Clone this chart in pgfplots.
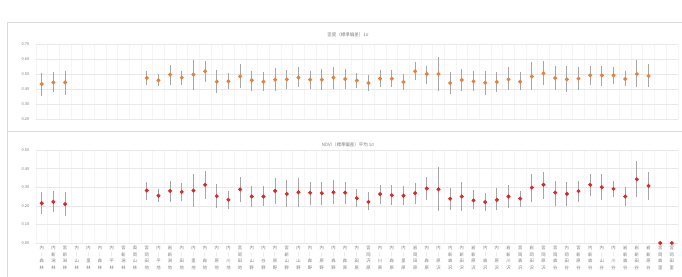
\documentclass[border=0pt]{standalone}
\usepackage{pgfplots}
\pgfplotsset{compat=1.18}
\usepackage{pgfplotstable}
\usepackage{fontspec}
\setmainfont{Noto Sans CJK JP}
\definecolor{gridc}{HTML}{E8E8E8}
\definecolor{labc}{HTML}{808080}
\definecolor{errc}{HTML}{A6A6A6}
\definecolor{orangem}{HTML}{ED7D31}
\definecolor{redm}{HTML}{E02424}
\definecolor{framec}{HTML}{D9D9D9}

\pgfplotstableread{
x y hi lo
0 0.433 0.507 0.356
1 0.444 0.511 0.378
2 0.444 0.518 0.362
9 0.473 0.522 0.424
10 0.458 0.500 0.422
11 0.496 0.562 0.429
12 0.476 0.522 0.429
13 0.496 0.596 0.396
14 0.518 0.584 0.444
15 0.449 0.529 0.373
16 0.451 0.507 0.400
17 0.484 0.567 0.407
18 0.458 0.522 0.389
19 0.449 0.513 0.384
20 0.462 0.540 0.384
21 0.464 0.529 0.400
22 0.476 0.544 0.411
23 0.462 0.522 0.400
24 0.462 0.533 0.396
25 0.476 0.544 0.402
26 0.467 0.536 0.402
27 0.456 0.507 0.407
28 0.440 0.491 0.384
29 0.469 0.524 0.411
30 0.469 0.524 0.411
31 0.447 0.502 0.396
32 0.518 0.578 0.458
33 0.500 0.556 0.436
34 0.500 0.611 0.384
35 0.440 0.513 0.369
36 0.460 0.536 0.384
37 0.451 0.522 0.384
38 0.442 0.518 0.362
39 0.447 0.513 0.378
40 0.464 0.544 0.391
41 0.449 0.511 0.393
42 0.484 0.578 0.396
43 0.504 0.589 0.424
44 0.473 0.556 0.396
45 0.464 0.551 0.382
46 0.469 0.544 0.396
47 0.491 0.551 0.429
48 0.491 0.556 0.422
49 0.491 0.547 0.433
50 0.467 0.518 0.418
51 0.500 0.591 0.413
52 0.487 0.567 0.413
}\toptable

\pgfplotstableread{
x y hi lo
0 0.214 0.273 0.157
1 0.221 0.280 0.164
2 0.209 0.273 0.146
9 0.282 0.330 0.232
10 0.254 0.291 0.218
11 0.280 0.336 0.223
12 0.275 0.321 0.227
13 0.282 0.371 0.191
14 0.313 0.388 0.236
15 0.252 0.318 0.188
16 0.232 0.277 0.184
17 0.288 0.354 0.218
18 0.250 0.304 0.193
19 0.250 0.304 0.200
20 0.280 0.348 0.209
21 0.264 0.339 0.191
22 0.273 0.352 0.196
23 0.270 0.330 0.205
24 0.268 0.330 0.202
25 0.273 0.339 0.209
26 0.271 0.330 0.211
27 0.241 0.289 0.193
28 0.221 0.273 0.175
29 0.263 0.313 0.209
30 0.257 0.313 0.202
31 0.254 0.304 0.202
32 0.268 0.325 0.209
33 0.293 0.354 0.232
34 0.289 0.411 0.173
35 0.238 0.295 0.179
36 0.250 0.327 0.173
37 0.229 0.286 0.182
38 0.220 0.271 0.170
39 0.232 0.295 0.175
40 0.250 0.313 0.188
41 0.239 0.282 0.196
42 0.298 0.371 0.223
43 0.313 0.384 0.238
44 0.271 0.336 0.200
45 0.264 0.327 0.200
46 0.279 0.334 0.223
47 0.313 0.370 0.255
48 0.300 0.370 0.229
49 0.291 0.334 0.246
50 0.250 0.300 0.200
51 0.343 0.441 0.246
52 0.307 0.380 0.232
53 0 0 0
54 0 0 0
}\bottable

\pgfplotsset{
  panel/.style={
    scale only axis, width=641.8bp,
    xmin=-0.5, xmax=54.5,
    axis line style={draw=none}, tick style={draw=none},
    xtick={0,...,54},
    minor xtick={-0.5,0.5,...,54.5},
    ymajorgrids, xminorgrids,
    major grid style={gridc, line width=0.5bp},
    minor grid style={gridc!45, line width=0.4bp},
    yticklabel style={font=\fontsize{4}{4}\selectfont, text=labc, xshift=-3bp},
    clip=false,
    /pgf/number format/fixed, /pgf/number format/fixed zerofill,
    /pgf/number format/precision=2, /pgf/number format/assume math mode=true
  },
  eb/.style={
    only marks, mark=*, mark size=1.8bp,
    error bars/.cd, y dir=both, y explicit,
    error bar style={color=errc, line width=0.9bp}, error mark=none, /pgfplots/.cd
  }
}

\begin{document}
\begin{tikzpicture}
\path[use as bounding box] (0,0) rectangle (682bp,277bp);
\fill[white] (0,0) rectangle (682bp,277bp);
\draw[framec, line width=0.6bp] (7bp,0) -- (7bp,255bp) -- (682bp,255bp);
\draw[framec, line width=0.6bp] (7bp,146bp) -- (682bp,146bp);

\node[font=\fontsize{4.5}{5}\selectfont, text=labc] at (348bp,242bp) {歪度（標準偏差）1σ};
\node[font=\fontsize{4.5}{5}\selectfont, text=labc] at (348bp,132bp) {NDVI（標準偏差）平均 1σ};

\begin{axis}[panel, at={(35.9bp,158bp)}, anchor=south west, height=75bp,
  ymin=0.2, ymax=0.7, ytick={0.2,0.3,...,0.71}, xticklabels={}]
\addplot+[mark options={fill=orangem, draw=orangem}, eb]
  table[x=x, y=y, y error plus expr=\thisrow{hi}-\thisrow{y}, y error minus expr=\thisrow{y}-\thisrow{lo}] {\toptable};
\end{axis}

\begin{axis}[panel, at={(35.9bp,34bp)}, anchor=south west, height=93bp,
  ymin=0, ymax=0.5, ytick={0,0.1,...,0.51},
  xticklabel style={font=\fontsize{4.3}{6.6}\selectfont, text=labc, align=center, anchor=north, inner sep=0pt, yshift=-3bp},
  xticklabels={
  {内\\｜\\森\\林},{内\\新\\潟\\林},{宮\\新\\潟\\林},{内\\｜\\山\\林},{内\\｜\\里\\林},{内\\｜\\森\\林},{内\\｜\\平\\林},{宮\\新\\潟\\林},{奥\\岡\\山\\林},
  {宮\\岡\\田\\地},{内\\｜\\平\\地},{岩\\新\\潟\\地},{内\\｜\\田\\地},{内\\｜\\里\\地},{内\\｜\\森\\地},{内\\｜\\原\\地},{内\\｜\\川\\地},{宮\\岡\\田\\地},
  {内\\｜\\山\\野},{内\\｜\\谷\\野},{内\\｜\\原\\野},{宮\\新\\山\\野},{内\\｜\\山\\野},{内\\｜\\森\\野},{内\\｜\\原\\野},{内\\｜\\森\\野},
  {内\\｜\\森\\原},{内\\｜\\田\\原},{宮\\岡\\沢\\原},{内\\｜\\川\\原},{内\\｜\\森\\原},{内\\｜\\里\\原},{岩\\岡\\田\\原},{内\\｜\\森\\原},{内\\｜\\原\\沢},
  {内\\新\\森\\沢},{内\\新\\田\\沢},{岩\\新\\原\\沢},{内\\｜\\森\\沢},{内\\｜\\原\\沢},{岩\\新\\川\\沢},{宮\\岡\\森\\沢},{岩\\岡\\田\\沢},{宮\\岡\\原\\沢},
  {宮\\岡\\森\\谷},{内\\岡\\田\\谷},{宮\\新\\原\\谷},{内\\新\\森\\谷},{内\\｜\\山\\谷},{内\\｜\\川\\谷},{岩\\新\\森\\谷},{岩\\新\\田\\谷},{岩\\新\\原\\谷},
  {宮\\岡\\森\\里},{宮\\岡\\田\\里}}]
\addplot+[mark options={fill=redm, draw=redm}, eb]
  table[x=x, y=y, y error plus expr=\thisrow{hi}-\thisrow{y}, y error minus expr=\thisrow{y}-\thisrow{lo}] {\bottable};
\end{axis}
\end{tikzpicture}
\end{document}
